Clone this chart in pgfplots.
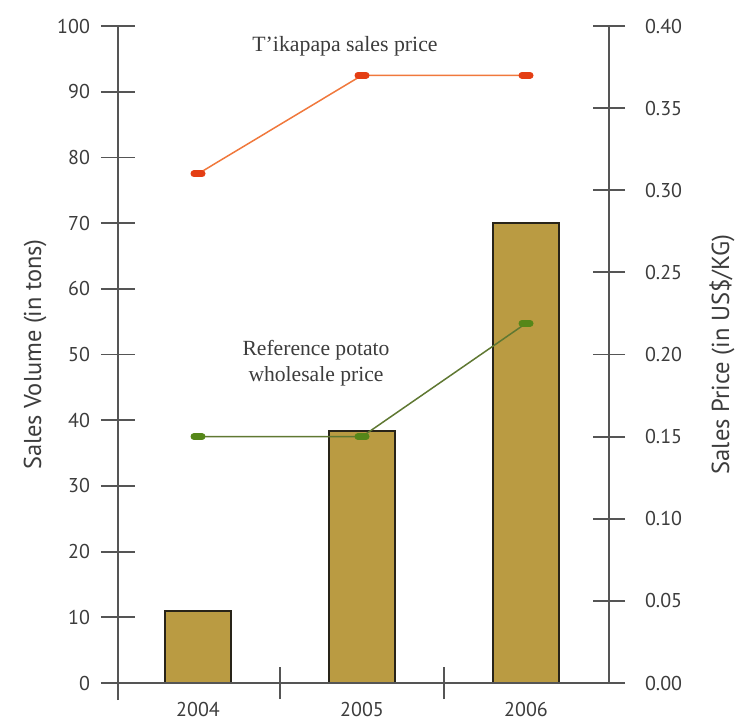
\documentclass[border=0pt]{standalone}
\usepackage{pgfplots}
\pgfplotsset{compat=1.18}
\usepackage{fontspec}
\setmainfont{Liberation Serif}
\newfontfamily\tickfont{PT Sans}
\definecolor{barfill}{RGB}{186,155,66}
\definecolor{barline}{RGB}{40,36,25}
\definecolor{axisgray}{RGB}{85,85,85}
\definecolor{labelgray}{RGB}{60,60,60}
\definecolor{orangeline}{RGB}{240,120,60}
\definecolor{orangemark}{RGB}{228,62,20}
\definecolor{greenline}{RGB}{95,120,50}
\definecolor{greenmark}{RGB}{85,135,25}
\begin{document}
\begin{tikzpicture}
\pgfplotsset{
  common/.style={
    at={(0,0)}, anchor=south west, scale only axis,
    width=245.5pt, height=328.5pt,
    xmin=-0.4878, xmax=2.506,
    axis line style={draw=none},
    tick align=center,
    tick style={axisgray, line width=0.9pt},
    /pgf/number format/assume math mode=true,
    ticklabel style={font=\tickfont\fontsize{10}{12}\selectfont, text=labelgray},
    clip=false,
  }
}
\begin{axis}[common,
  ymin=0, ymax=100,
  xtick={0,1,2}, xticklabels={2004,2005,2006},
  minor xtick={0.5,1.5},
  major x tick style={draw=none},
  minor tick length=16pt,
  xtick pos=bottom, ytick pos=left,
  ytick={0,10,...,100},
  major tick length=17pt,
  xticklabel style={yshift=2.5pt},
  yticklabel style={xshift=-2pt},
]
\addplot[ybar, bar width=0.4, fill=barfill, draw=barline, line width=0.9pt]
  coordinates {(0,11) (1,38.3) (2,70)};
\end{axis}
\begin{axis}[common,
  ymin=0, ymax=0.4,
  hide x axis,
  ytick pos=right,
  ytick={0,0.05,0.10,0.15,0.20,0.25,0.30,0.35,0.40},
  major tick length=16pt,
  yticklabel style={xshift=6.5pt, /pgf/number format/.cd, fixed, fixed zerofill, precision=2},
]
\addplot[color=orangeline, line width=0.75pt, mark=-, mark size=2pt,
  mark options={draw=orangemark, line width=3.5pt, line cap=round}]
  coordinates {(0,0.31) (1,0.37) (2,0.37)};
\addplot[color=greenline, line width=0.75pt, mark=-, mark size=2pt,
  mark options={draw=greenmark, line width=3.5pt, line cap=round}]
  coordinates {(0,0.15) (1,0.15) (2,0.219)};
\end{axis}
\draw[axisgray, line width=1.1pt] (0,-8.5pt) -- (0,328.5pt);
\draw[axisgray, line width=1.1pt] (-8.5pt,0) -- (253.5pt,0);
\draw[axisgray, line width=1.1pt] (245.5pt,0) -- (245.5pt,328.5pt);
\node[font=\fontsize{10.9}{13}\selectfont, text=labelgray] at (113.5pt,318.5pt) {T’ikapapa sales price};
\node[font=\fontsize{10.8}{13}\selectfont, text=labelgray, align=center] at (99pt,160pt) {Reference potato\\wholesale price};
\node[font=\tickfont\fontsize{12.2}{14}\selectfont, text=labelgray, rotate=90] at (-41.5pt,164.25pt) {Sales Volume (in tons)};
\node[font=\tickfont\fontsize{12.3}{14}\selectfont, text=labelgray, rotate=90] at (302pt,164.25pt) {Sales Price (in US\$/KG)};
\pgfresetboundingbox
\path (-59pt,-18.5pt) rectangle (309.5pt,341.5pt);
\end{tikzpicture}
\end{document}
